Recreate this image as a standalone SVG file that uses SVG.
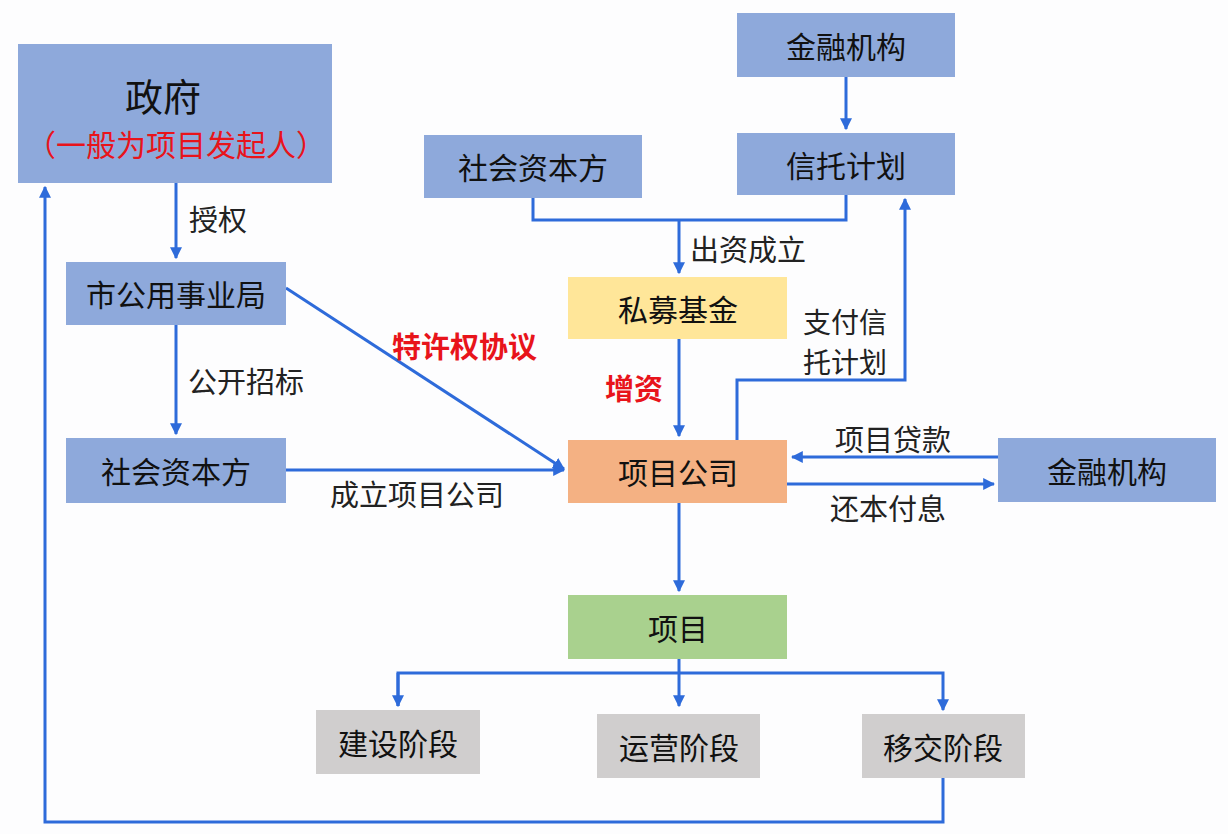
<svg xmlns="http://www.w3.org/2000/svg" width="1228" height="834" viewBox="0 0 1228 834">
<defs>
<marker id="ah" viewBox="0 0 10 10" refX="9" refY="5" markerWidth="4" markerHeight="4" orient="auto" markerUnits="strokeWidth"><path d="M0,0 L10,5 L0,10 z" fill="#2E6BDA"/></marker>
<style>
.blue{fill:#8EA9DB}
.yel{fill:#FFE699}
.org{fill:#F4B183}
.grn{fill:#A9D18E}
.gry{fill:#D0CECE}
.t{font-family:"Noto Sans CJK SC","Noto Sans",sans-serif;font-size:30px;fill:#111;text-anchor:middle;dominant-baseline:central}
.l{font-family:"Noto Sans CJK SC","Noto Sans",sans-serif;font-size:29px;fill:#222;dominant-baseline:central}
.r{font-family:"Noto Sans CJK SC","Noto Sans",sans-serif;font-size:29px;fill:#E8141B;font-weight:bold;dominant-baseline:central}
.c{fill:none;stroke:#2E6BDA;stroke-width:3}
</style>
</defs>
<rect width="1228" height="834" fill="#FDFDFE"/>
<g id="connectors">
<path class="c" d="M176,183 V258" marker-end="url(#ah)"/>
<path class="c" d="M176,325 V434" marker-end="url(#ah)"/>
<path class="c" d="M286,470 H564" marker-end="url(#ah)"/>
<path class="c" d="M286,288 L564,469" marker-end="url(#ah)"/>
<path class="c" d="M846,77 V129" marker-end="url(#ah)"/>
<path class="c" d="M533,198 V220 H846 V195"/>
<path class="c" d="M679,220 V273" marker-end="url(#ah)"/>
<path class="c" d="M679,339 V436" marker-end="url(#ah)"/>
<path class="c" d="M737,440 V380 H905 V199" marker-end="url(#ah)"/>
<path class="c" d="M998,457 H792" marker-end="url(#ah)"/>
<path class="c" d="M787,484 H994" marker-end="url(#ah)"/>
<path class="c" d="M679,503 V591" marker-end="url(#ah)"/>
<path class="c" d="M679,659 V706" marker-end="url(#ah)"/>
<path class="c" d="M398,706 V673 H943 V710" marker-end="url(#ah)"/>
<path class="c" d="M398,673 V706" marker-end="url(#ah)"/>
<path class="c" d="M943,778 V822 H45 V187" marker-end="url(#ah)"/>
</g>
<g id="labels">
<text class="l" x="189" y="218">授权</text>
<text class="l" x="188" y="380">公开招标</text>
<text class="l" x="330" y="493">成立项目公司</text>
<text class="r" x="392" y="345">特许权协议</text>
<text class="l" x="690" y="248">出资成立</text>
<text class="r" x="605" y="387">增资</text>
<text class="l" x="803" y="321" style="font-size:28px">支付信</text>
<text class="l" x="803" y="361" style="font-size:28px">托计划</text>
<text class="l" x="835" y="438">项目贷款</text>
<text class="l" x="830" y="507">还本付息</text>
</g>
<g id="gov">
<rect class="blue" x="18" y="44" width="314" height="139"/>
<text class="t" x="163" y="94" style="font-size:38px">政府</text>
<text class="t" x="176" y="143" style="font-size:30px;fill:#E8141B">（一般为项目发起人）</text>
</g>
<g id="bureau"><rect class="blue" x="66" y="262" width="220" height="63"/><text class="t" x="176" y="293">市公用事业局</text></g>
<g id="social-left"><rect class="blue" x="66" y="438" width="220" height="65"/><text class="t" x="176" y="470">社会资本方</text></g>
<g id="fin-top"><rect class="blue" x="737" y="13" width="218" height="64"/><text class="t" x="846" y="45">金融机构</text></g>
<g id="trust"><rect class="blue" x="737" y="133" width="218" height="62"/><text class="t" x="846" y="164">信托计划</text></g>
<g id="social-top"><rect class="blue" x="424" y="135" width="218" height="63"/><text class="t" x="533" y="166">社会资本方</text></g>
<g id="fund"><rect class="yel" x="568" y="277" width="219" height="62"/><text class="t" x="678" y="308">私募基金</text></g>
<g id="company"><rect class="org" x="568" y="440" width="219" height="63"/><text class="t" x="678" y="471">项目公司</text></g>
<g id="fin-right"><rect class="blue" x="998" y="438" width="218" height="64"/><text class="t" x="1107" y="470">金融机构</text></g>
<g id="project"><rect class="grn" x="568" y="595" width="219" height="64"/><text class="t" x="678" y="627">项目</text></g>
<g id="build"><rect class="gry" x="316" y="710" width="164" height="64"/><text class="t" x="398" y="742">建设阶段</text></g>
<g id="operate"><rect class="gry" x="597" y="714" width="163" height="64"/><text class="t" x="679" y="746">运营阶段</text></g>
<g id="transfer"><rect class="gry" x="862" y="714" width="163" height="64"/><text class="t" x="943" y="746">移交阶段</text></g>
</svg>
